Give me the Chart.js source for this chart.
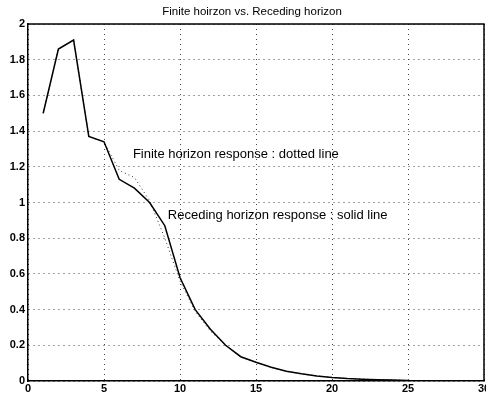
<!DOCTYPE html>
<html>
<head>
<meta charset="utf-8">
<script src="https://cdn.jsdelivr.net/npm/chart.js@4"></script>
<style>
  html, body { margin: 0; padding: 0; background: #fff; }
  #wrap { width: 486px; height: 398px; }
</style>
</head>
<body>
<div id="wrap"><canvas id="horizon-chart"></canvas></div>
<script>
var ctx = document.getElementById('horizon-chart');

// values
var steps = [1,2,3,4,5,6,7,8,9,10,11,12,13,14,15,16,17,18,19,20,21,22,23,24,25];
var receding = [1.50,1.86,1.91,1.37,1.34,1.13,1.08,1.00,0.87,0.58,0.40,0.29,0.20,0.136,0.105,0.077,0.055,0.040,0.028,0.020,0.014,0.010,0.007,0.005,0.003];
var finite = [1.50,1.86,1.91,1.37,1.34,1.18,1.14,1.01,0.80,0.56,0.39,0.28,0.20,0.134,0.104,0.076,0.054,0.039,0.028,0.020,0.014,0.010,0.007,0.005,0.003];
var xTicks = [0,5,10,15,20,25,30];
var yTicks = [0,0.2,0.4,0.6,0.8,1,1.2,1.4,1.6,1.8,2];
var titleText = 'Finite hoirzon vs. Receding horizon';
var notes = [
  { text: 'Finite horizon response : dotted line', x: 6.9, y: 1.27 },
  { text: 'Receding horizon response : solid line', x: 9.2, y: 0.925 }
];

function toPoints(ys){
  return steps.map(function(s, i){ return { x: s, y: ys[i] }; });
}

var decor = {
  id: 'decor',
  afterDraw: function(chart){
    var c = chart.ctx, a = chart.chartArea;
    var sx = chart.scales.x, sy = chart.scales.y;
    c.save();
    // box top and right
    c.strokeStyle = '#000';
    c.lineWidth = 1.5;
    c.beginPath();
    c.moveTo(a.left, a.top);
    c.lineTo(a.right, a.top);
    c.lineTo(a.right, a.bottom);
    c.stroke();
    // title
    c.fillStyle = '#000';
    c.font = '11.5px "Liberation Sans", Arial, sans-serif';
    c.textAlign = 'center';
    c.textBaseline = 'middle';
    c.fillText(titleText, (a.left + a.right) / 2 - 4, 12);
    // notes
    c.textAlign = 'left';
    c.font = '13px "Liberation Sans", Arial, sans-serif';
    notes.forEach(function(n){
      c.fillText(n.text, sx.getPixelForValue(n.x), sy.getPixelForValue(n.y));
    });
    c.restore();
  }
};

var tickFont = { family: '"Liberation Sans", Arial, sans-serif', size: 11, weight: 'bold' };

new Chart(ctx, {
  type: 'line',
  data: {
    datasets: [{
      label: 'Receding horizon',
      data: toPoints(receding),
      borderColor: '#000',
      borderWidth: 1.5,
      pointRadius: 0,
      tension: 0,
      fill: false
    }, {
      label: 'Finite horizon',
      data: toPoints(finite),
      borderColor: '#333',
      borderWidth: 1,
      borderDash: [1, 3],
      pointRadius: 0,
      tension: 0,
      fill: false
    }]
  },
  options: {
    animation: false,
    responsive: true,
    maintainAspectRatio: false,
    layout: { padding: { top: 24, right: 2, left: 0, bottom: 0 } },
    plugins: {
      legend: { display: false },
      title: { display: false },
      tooltip: { enabled: false }
    },
    scales: {
      x: {
        type: 'linear',
        min: 0,
        max: 30,
        afterBuildTicks: function(s){ s.ticks = xTicks.map(function(v){ return { value: v }; }); },
        afterFit: function(s){ s.height = 17; s.paddingLeft = 0; s.paddingRight = 0; },
        ticks: { color: '#000', font: tickFont, padding: 1, maxRotation: 0, autoSkip: false,
                 callback: function(v){ return String(v); } },
        grid: { color: '#444', lineWidth: 1, drawTicks: false },
        border: { display: true, color: '#000', width: 1.5, dash: [1, 4] }
      },
      y: {
        min: 0,
        max: 2,
        afterBuildTicks: function(s){ s.ticks = yTicks.map(function(v){ return { value: v }; }); },
        afterFit: function(s){ s.width = 28; },
        ticks: { color: '#000', font: tickFont, padding: 3, autoSkip: false,
                 callback: function(v){ return String(v); } },
        grid: { color: '#444', lineWidth: 1, drawTicks: false },
        border: { display: true, color: '#000', width: 1.5, dash: [1, 4] }
      }
    }
  },
  plugins: [decor]
});
</script>
</body>
</html>
